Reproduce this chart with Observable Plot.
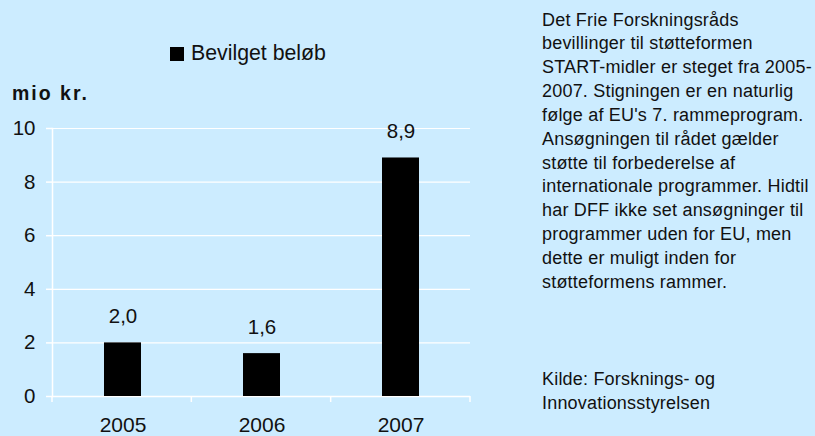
<!DOCTYPE html>
<html><head><meta charset="utf-8">
<script src="https://cdn.jsdelivr.net/npm/d3@7"></script>
<script src="https://cdn.jsdelivr.net/npm/@observablehq/plot@0.6"></script>
<style>
html,body{margin:0;padding:0;}
body{width:815px;height:436px;background:#CCECFF;overflow:hidden;font-family:"Liberation Sans",Arial,sans-serif;color:#111;}
#wrap{position:relative;width:815px;height:436px;background:#CCECFF;}
#chart{position:absolute;left:0;top:0;}
#legend{position:absolute;left:170px;top:37px;}
#unit{position:absolute;left:12px;top:82px;font-weight:bold;font-size:19.5px;letter-spacing:2px;line-height:23px;}
.note{position:absolute;left:542px;font-size:18px;line-height:23.85px;letter-spacing:0.2px;white-space:nowrap;}
#note1{top:8.5px;}
#note2{top:367.8px;}
.bl-swatch > svg{margin-right:7px !important;}
</style>
</head><body>
<div id="wrap">
  <div id="chart"></div>
  <div id="legend"></div>
  <div id="unit"></div>
  <div id="note1" class="note"></div>
  <div id="note2" class="note"></div>
</div>
<script>
const years = ["2005", "2006", "2007"];
const values = [2.0, 1.6, 8.9];
const seriesName = "Bevilget beløb";
const yTicks = [0, 2, 4, 6, 8, 10];
const yUnit = "mio kr.";
const noteLines = [
  "Det Frie Forskningsråds",
  "bevillinger til støtteformen",
  "START-midler er steget fra 2005-",
  "2007. Stigningen er en naturlig",
  "følge af EU's 7. rammeprogram.",
  "Ansøgningen til rådet gælder",
  "støtte til forbederelse af",
  "internationale programmer. Hidtil",
  "har DFF ikke set ansøgninger til",
  "programmer uden for EU, men",
  "dette er muligt inden for",
  "støtteformens rammer."
];
const sourceLines = ["Kilde: Forsknings- og", "Innovationsstyrelsen"];

const data = years.map((y, i) => ({year: y, value: values[i]}));
const fmt = v => d3.format(".1f")(v).replace(".", ",");

// white tick marks at the category boundaries on the x axis
function boundaryTicks(index, scales, vals, dims) {
  const g = d3.create("svg:g");
  const left = dims.marginLeft, right = dims.width - dims.marginRight;
  const n = years.length, step = (right - left) / n;
  const y0 = dims.height - dims.marginBottom;
  for (let i = 0; i <= n; i++) {
    g.append("line")
      .attr("x1", left + i * step).attr("x2", left + i * step)
      .attr("y1", y0).attr("y2", y0 + 6)
      .attr("stroke", "white").attr("stroke-width", 1.5);
  }
  return g.node();
}

const chart = Plot.plot({
  width: 500,
  height: 436,
  marginLeft: 52,
  marginRight: 30,
  marginTop: 128,
  marginBottom: 40,
  style: {background: "transparent", fontFamily: "Liberation Sans, Arial, sans-serif", fontSize: "20.5px", color: "#111", overflow: "visible"},
  x: {domain: years, paddingInner: 0.735, paddingOuter: 0.3675, label: null},
  y: {domain: [0, 10], label: null},
  marks: [
    Plot.gridY(yTicks, {stroke: "white", strokeOpacity: 1, strokeWidth: 1.2}),
    Plot.frame({anchor: "left", stroke: "white", strokeWidth: 1.5}),
    Plot.ruleY([0], {stroke: "white", strokeWidth: 1.5}),
    Plot.axisY(yTicks, {tickSize: 6, tickPadding: 11, stroke: "white", strokeOpacity: 1, strokeWidth: 1.5, fill: "#111", fontSize: 20.5, label: null}),
    Plot.axisX({tickSize: 0, tickPadding: 20.5, fill: "#111", fontSize: 21, label: null}),
    Plot.barY(data, {x: "year", y: "value", fill: "black"}),
    Plot.text(data, {x: "year", y: "value", text: d => fmt(d.value), dy: -20, lineAnchor: "bottom", fontSize: 20.5, fill: "#111"}),
    boundaryTicks
  ]
});
document.getElementById("chart").appendChild(chart);

const legend = Plot.legend({
  color: {type: "ordinal", domain: [seriesName], range: ["black"]},
  swatchSize: 14,
  className: "bl",
  style: {fontSize: "21.3px", fontFamily: "Liberation Sans, Arial, sans-serif", color: "#111", background: "transparent"}
});
document.getElementById("legend").appendChild(legend);

document.getElementById("unit").textContent = yUnit;
const n1 = document.getElementById("note1");
noteLines.forEach(t => { const d = document.createElement("div"); d.textContent = t; n1.appendChild(d); });
const n2 = document.getElementById("note2");
sourceLines.forEach(t => { const d = document.createElement("div"); d.textContent = t; n2.appendChild(d); });
</script>
</body></html>
